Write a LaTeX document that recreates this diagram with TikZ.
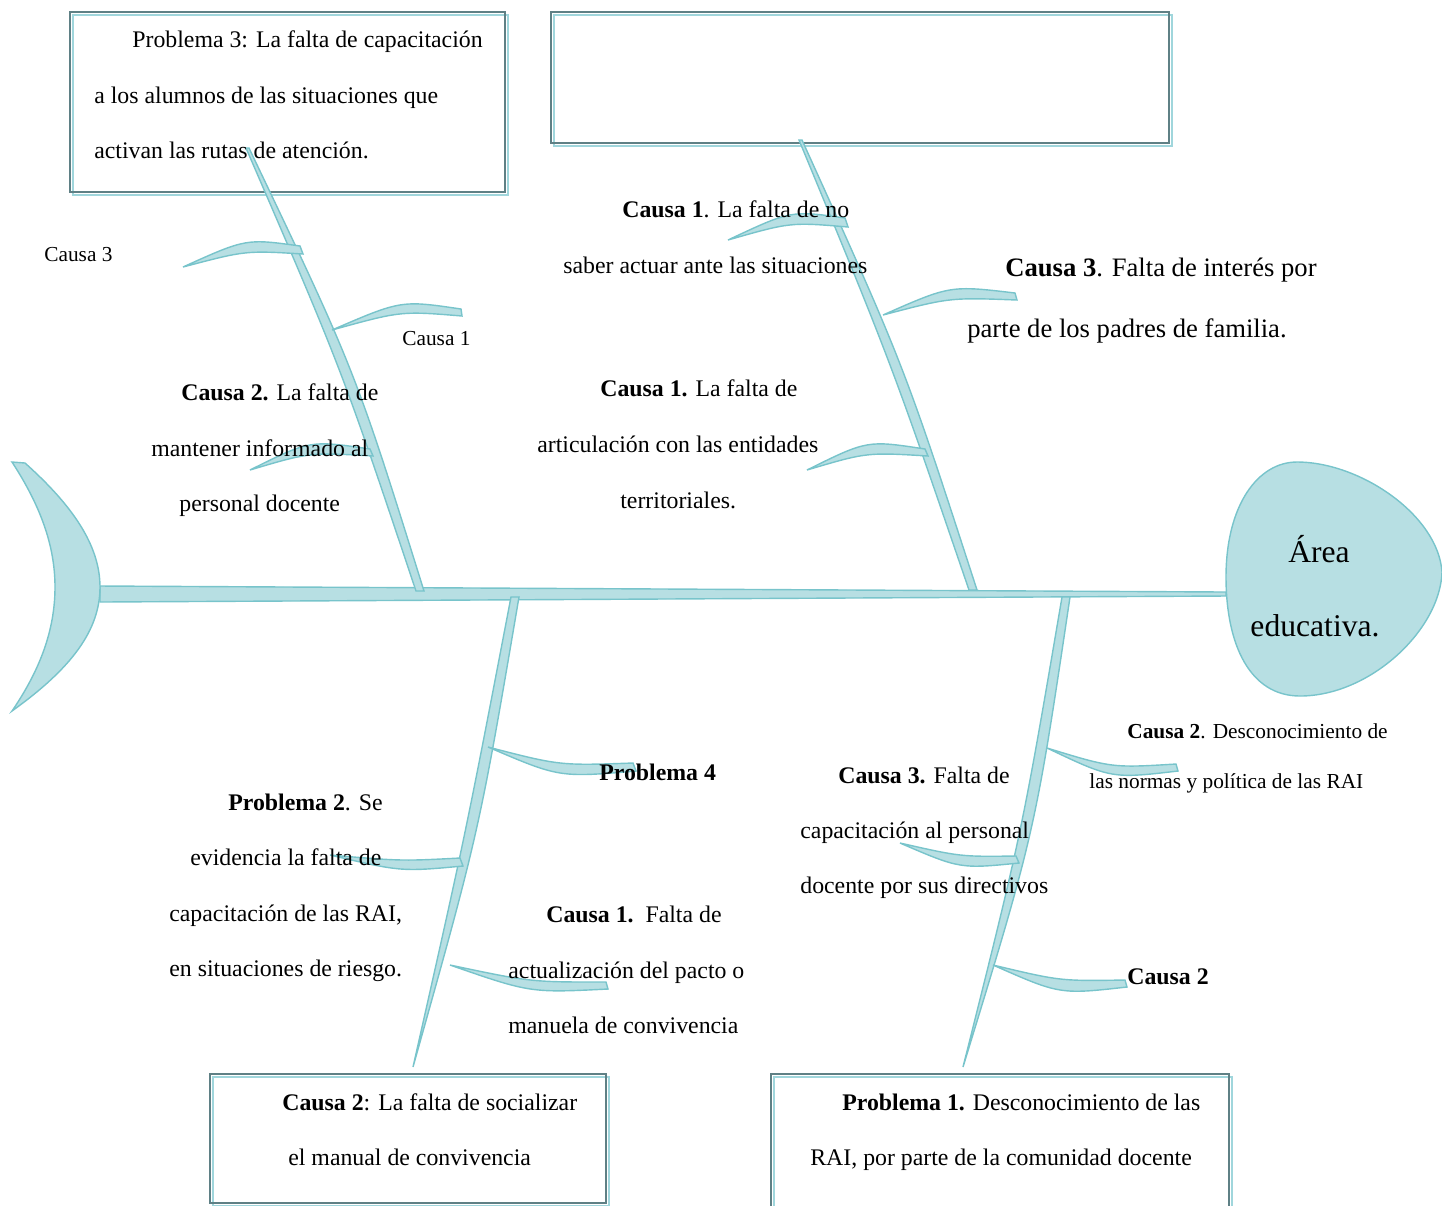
\documentclass[tikz,border=0pt]{standalone}
\usepackage{fontspec}
\setmainfont{Liberation Serif}
\usetikzlibrary{calc}
\definecolor{bonefill}{RGB}{183,223,227}
\definecolor{boneline}{RGB}{120,196,203}
\definecolor{boxdark}{RGB}{95,128,133}
\definecolor{boxshade}{RGB}{160,214,220}

% one small curved bone: thin end, thick end (upper, lower), upper mid, lower mid
\newcommand{\twig}[5]{\draw[bone] #1 .. controls ($1.3333*#4-0.1667*#1-0.1667*#2$) .. #2
  -- #3 .. controls ($1.3333*#5-0.1667*#3-0.1667*#1$) .. #1 -- cycle;}

\begin{document}
\begin{tikzpicture}[x=0.02cm, y=-0.02cm,
  bone/.style={fill=bonefill, draw=boneline, line width=0.8pt},
  boxframe/.style={draw=boxdark, line width=1.3pt},
  boxshadow/.style={draw=boxshade, line width=1.6pt},
  txt/.style={anchor=base west, inner sep=0pt, font=\fontsize{13.55}{16}\selectfont},
  smalltxt/.style={txt, font=\fontsize{12.15}{14}\selectfont},
  bigtxt/.style={txt, font=\fontsize{15.15}{18}\selectfont},
  headtxt/.style={anchor=base, inner sep=0pt, font=\fontsize{18}{22}\selectfont}
]
\useasboundingbox (0,0) rectangle (1442,1205);

% Boxes
\draw[boxshadow] (73,15) rectangle (508,195);
\draw[boxframe] (70,12) rectangle (505,192);
\draw[boxshadow] (554,15) rectangle (1172,146);
\draw[boxframe] (551,12) rectangle (1169,143);
\draw[boxshadow] (213,1077) rectangle (609,1206);
\draw[boxframe] (210,1074) rectangle (606,1203);
\draw[boxshadow] (774,1077) rectangle (1232,1215);
\draw[boxframe] (771,1074) rectangle (1229,1212);

% Spine, tail and head
\draw[bone] (100,586) -- (1226,592) -- (1226,596) -- (100,602) -- cycle;
\draw[bone] (25,463) .. controls (72,505) and (100,545) .. (100,587)
  .. controls (100,630) and (72,668) .. (12,711)
  .. controls (40,670) and (55,630) .. (55,587)
  .. controls (55,545) and (40,505) .. (12,462) -- cycle;
\draw[bone] (1226,577) .. controls (1226,505) and (1258,462) .. (1297,462)
  .. controls (1360,462) and (1438,515) .. (1442,572)
  .. controls (1440,630) and (1370,696) .. (1300,696)
  .. controls (1250,696) and (1226,645) .. (1226,577) -- cycle;

% Main bones
\draw[bone] (246,148) .. controls (342,370) .. (416,591) -- (424,591) .. controls (355,370) .. (249,148) -- cycle;
\draw[bone] (799,140) .. controls (892,365) .. (969,590) -- (977,590) .. controls (904,365) .. (802,140) -- cycle;
\draw[bone] (511,597) .. controls (466,832) .. (413,1067) .. controls (479,832) .. (519,597) -- cycle;
\draw[bone] (1062,597) .. controls (1022,832) .. (963,1067) .. controls (1035,832) .. (1070,597) -- cycle;

% Small bones
\twig{(183,267)}{(300,246)}{(303,254)}{(245,243)}{(245,253)}
\twig{(332,330)}{(461,309)}{(462,316)}{(400,305)}{(400,314)}
\twig{(250,470)}{(370,449)}{(373,456)}{(310,445)}{(310,455)}
\twig{(728,240)}{(845,218)}{(848,227)}{(790,215)}{(790,225)}
\twig{(883,315)}{(1015,293)}{(1017,300)}{(950,290)}{(950,300)}
\twig{(807,470)}{(925,449)}{(928,456)}{(867,445)}{(867,455)}
\twig{(488,747)}{(633,763)}{(636,771)}{(560,763)}{(560,773)}
\twig{(330,855)}{(460,858)}{(463,866)}{(400,860)}{(400,869)}
\twig{(450,965)}{(606,982)}{(608,989)}{(530,980)}{(530,989)}
\twig{(1047,748)}{(1176,764)}{(1178,771)}{(1112,765)}{(1112,774)}
\twig{(900,843)}{(1016,856)}{(1019,863)}{(960,855)}{(960,865)}
\twig{(993,965)}{(1125,980)}{(1127,987)}{(1060,979)}{(1060,990)}

% Top left box
\node[txt] (p3a) at (132,47) {Problema 3: La falta de capacitación};
\node[txt] (p3b) at (94,103) {a los alumnos de las situaciones que};
\node[txt] (p3c) at (94,158) {activan las rutas de atención.};

% Upper left bone
\node[smalltxt] (c3s) at (44,261) {Causa 3};
\node[smalltxt] (c1s) at (402,345) {Causa 1};
\node[txt] (c2a) at (181,400) {\textbf{Causa 2.} La falta de};
\node[txt] (c2b) at (151,456) {mantener informado al};
\node[txt] (c2c) at (179,511) {personal docente};

% Upper right bone
\node[txt] (c1a) at (622,217) {\textbf{Causa 1}. La falta de no};
\node[txt] (c1b) at (563,273) {saber actuar ante las situaciones};
\node[bigtxt] (c3a) at (1005,276) {\textbf{Causa 3}. Falta de interés por};
\node[bigtxt] (c3b) at (967,337) {parte de los padres de familia.};
\node[txt] (c1d) at (600,396) {\textbf{Causa 1.} La falta de};
\node[txt] (c1e) at (537,452) {articulación con las entidades};
\node[txt] (c1f) at (620,508) {territoriales.};

% Head
\node[headtxt] (areaa) at (1319,562) {Área};
\node[headtxt] (areab) at (1315,636) {educativa.};

% Lower left bone
\node[txt] (p4) at (599,780) {\textbf{Problema 4}};
\node[txt] (p2a) at (228,810) {\textbf{Problema 2}. Se};
\node[txt] (p2b) at (190,865) {evidencia la falta de};
\node[txt] (p2c) at (169,921) {capacitación de las RAI,};
\node[txt] (p2d) at (169,976) {en situaciones de riesgo.};
\node[txt] (c1g) at (546,922) {\textbf{Causa 1.}\ \ Falta de};
\node[txt] (c1h) at (508,978) {actualización del pacto o};
\node[txt] (c1i) at (508,1033) {manuela de convivencia};

% Lower right bone
\node[smalltxt] (c2d) at (1127,738) {\textbf{Causa 2}. Desconocimiento de};
\node[smalltxt] (c2e) at (1089,788) {las normas y política de las RAI};
\node[txt] (c3c) at (838,783) {\textbf{Causa 3.} Falta de};
\node[txt] (c3d) at (800,838) {capacitación al personal};
\node[txt] (c3e) at (800,893) {docente por sus directivos};
\node[txt] (c2f) at (1127,984) {\textbf{Causa 2}};

% Bottom boxes
\node[txt] (c2g) at (282,1110) {\textbf{Causa 2}: La falta de socializar};
\node[txt] (c2h) at (288,1165) {el manual de convivencia};
\node[txt] (p1a) at (842,1110) {\textbf{Problema 1.} Desconocimiento de las};
\node[txt] (p1b) at (810,1165) {RAI, por parte de la comunidad docente};

\end{tikzpicture}
\end{document}
